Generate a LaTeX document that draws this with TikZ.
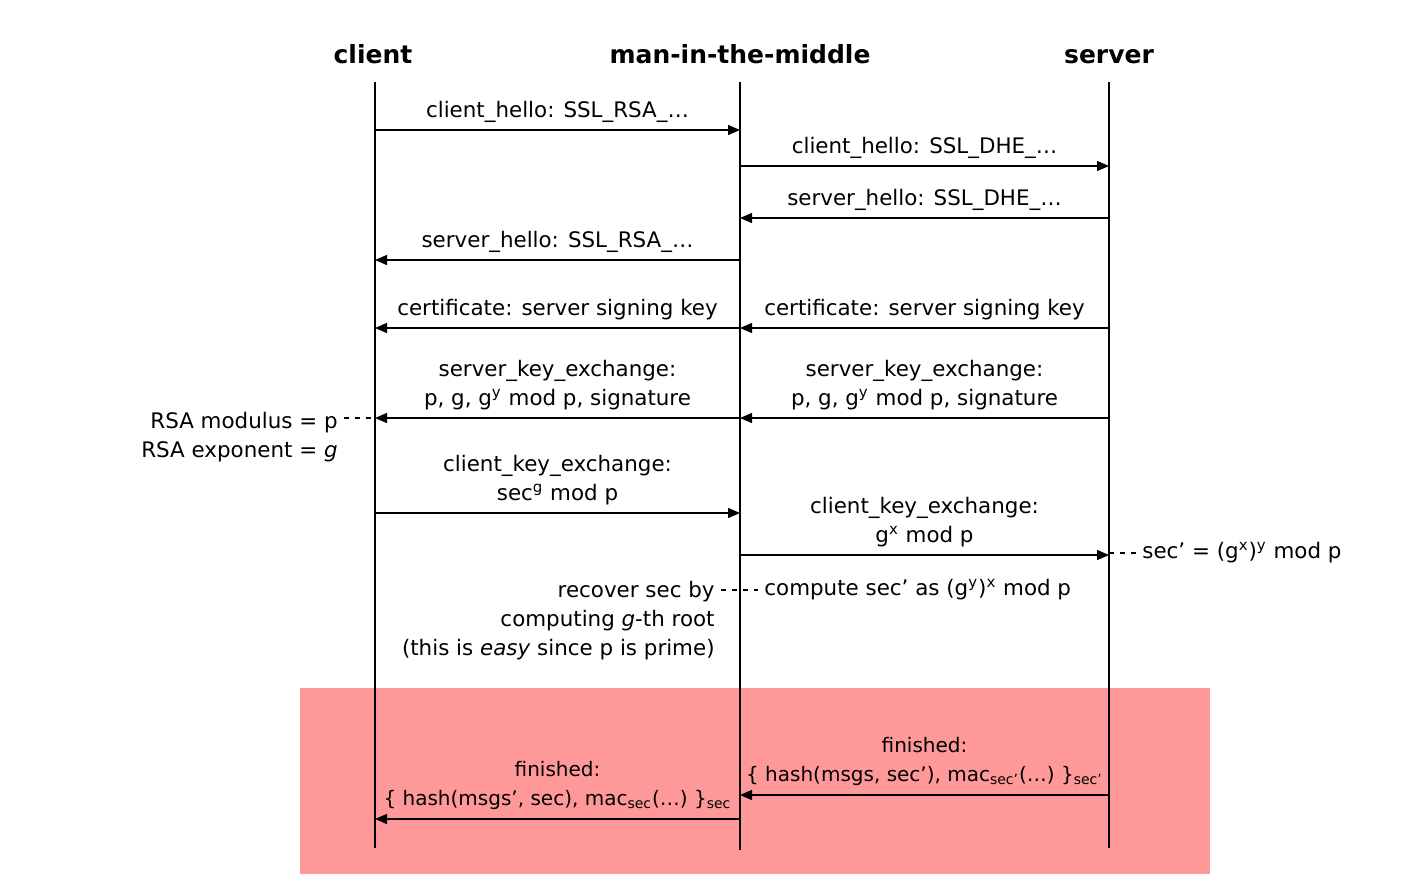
\documentclass[tikz,border=0pt]{standalone}
\usepackage{fontspec}
\setmainfont{DejaVu Sans}
\usetikzlibrary{
  arrows.meta,
  positioning,
}
\definecolor{finpink}{RGB}{255,153,153}
\tikzstyle{actor} = [
font=\fontsize{12.5}{15}\selectfont\bfseries
]
\tikzstyle{lifeline} = [draw, line width=0.7pt]
\tikzstyle{msg} = [align=center, inner sep=3.5pt]
\tikzstyle{finmsg} = [msg, inner ysep=4.5pt, font=\fontsize{10}{14.5}\selectfont]
\tikzstyle{arrow} = [draw, line width=0.7pt, -{Triangle[length=6pt,width=5pt]}]
\tikzstyle{note} = [draw, line width=0.6pt, dash pattern=on 2.5pt off 3pt]

\begin{document}
\begin{tikzpicture}[x=0.5pt, y=-0.5pt, font=\fontsize{10.7}{14.5}\selectfont]
  \useasboundingbox (0,0) rectangle (1420,891);
  % Finished phase background
  \fill[finpink] (300,688) rectangle (1210,874);

  % Actors and lifelines
  \node [actor] (client) at (373,54) {client};
  \node [actor] (mitm) at (740,54) {man-in-the-middle};
  \node [actor] (server) at (1109,57) {server};
  \coordinate (cl) at (375,82);  \coordinate (clend) at (375,848);
  \coordinate (mi) at (740,82);  \coordinate (miend) at (740,850);
  \coordinate (sv) at (1109,82); \coordinate (svend) at (1109,848);
  \path [lifeline] (cl) -- (clend);
  \path [lifeline] (mi) -- (miend);
  \path [lifeline] (sv) -- (svend);

  % Message heights
  \foreach \n/\y in {m1/130, m2/166, m3/218, m4/260, m5/328,
                     m7/418, m9/513, m10/555, m12/795, m13/819}
    \coordinate (\n) at (0,\y);

  % Draw messages
  \path [arrow] (cl |- m1) -- node [msg, above] (chello) {client\_hello: SSL\_RSA\_\ldots} (mi |- m1);
  \path [arrow] (mi |- m2) -- node [msg, above] (chellodhe) {client\_hello: SSL\_DHE\_\ldots} (sv |- m2);
  \path [arrow] (sv |- m3) -- node [msg, above] (shellodhe) {server\_hello: SSL\_DHE\_\ldots} (mi |- m3);
  \path [arrow] (mi |- m4) -- node [msg, above] (shello) {server\_hello: SSL\_RSA\_\ldots} (cl |- m4);

  \path [arrow] (mi |- m5) -- node [msg, above] (certc) {certificate: server signing key} (cl |- m5);
  \path [arrow] (sv |- m5) -- node [msg, above] (certs) {certificate: server signing key} (mi |- m5);

  \path [arrow] (sv |- m7) -- node [msg, above] (skes)
    {server\_key\_exchange:\\p, g, g\textsuperscript{y} mod p, signature} (mi |- m7);
  \path [arrow] (mi |- m7) -- node [msg, above] (skec)
    {server\_key\_exchange:\\p, g, g\textsuperscript{y} mod p, signature} (cl |- m7);

  \path [arrow] (cl |- m9) -- node [msg, above] (ckec)
    {client\_key\_exchange:\\sec\textsuperscript{g} mod p} (mi |- m9);
  \path [arrow] (mi |- m10) -- node [msg, above] (ckes)
    {client\_key\_exchange:\\g\textsuperscript{x} mod p} (sv |- m10);

  \path [arrow] (sv |- m12) -- node [finmsg, above] (fins)
    {finished:\\\{ hash(msgs, sec’), mac\textsubscript{sec’}(\ldots) \}\textsubscript{sec’}} (mi |- m12);
  \path [arrow] (mi |- m13) -- node [finmsg, above] (finc)
    {finished:\\\{ hash(msgs’, sec), mac\textsubscript{sec}(\ldots) \}\textsubscript{sec}} (cl |- m13);

  % Side notes
  \node [anchor=north east, align=right, inner xsep=3pt, inner ysep=0pt] (rsa) at (344,412)
    {RSA modulus = p\\RSA exponent = \textit{g}};
  \path [note] (rsa.north east |- m7) -- (cl |- m7);

  \node [anchor=west, inner sep=3pt] (secp) at (1136,553)
    {sec’ = (g\textsuperscript{x})\textsuperscript{y} mod p};
  \path [note] (sv |- secp) -- (secp.west);

  \node [anchor=north east, align=right, inner xsep=3pt, inner ysep=0pt] (recover) at (721,581)
    {recover sec by\\computing \textit{g}-th root\\(this is \textit{easy} since p is prime)};
  \node [anchor=west, inner sep=3pt] (compute) at (758,590)
    {compute sec’ as (g\textsuperscript{y})\textsuperscript{x} mod p};
  \path [note] (recover.north east |- compute) -- (compute.west);
\end{tikzpicture}
\end{document}
